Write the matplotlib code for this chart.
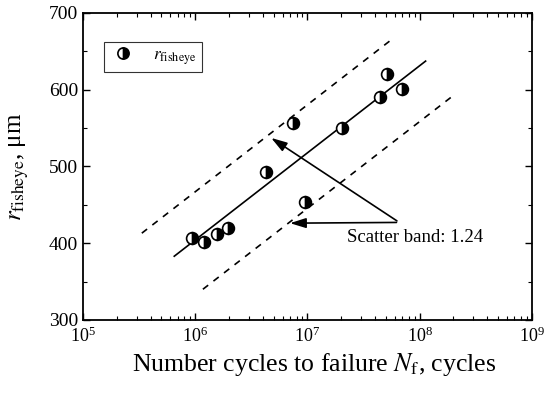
import numpy as np
import matplotlib.pyplot as plt
from matplotlib.ticker import LogLocator, MultipleLocator, NullFormatter

plt.rcParams['font.family'] = ['Liberation Serif', 'DejaVu Serif']
plt.rcParams['mathtext.fontset'] = 'stix'

# Data
cycles = [9.3e5, 1.2e6, 1.55e6, 1.96e6, 4.27e6, 7.46e6, 9.46e6, 2.03e7, 4.4e7, 5.1e7, 6.99e7]
r_fisheye = [407, 401, 412, 420, 493, 557, 453, 550, 590, 620, 601]

# Fit line and scatter band ends
fit_x = [6.5e5, 1.13e8]
fit_y = [383, 637]
upper_x = [3.34e5, 5.85e7]
upper_y = [413, 667]
lower_x = [1.17e6, 2.07e8]
lower_y = [340, 594]

fig, ax = plt.subplots(figsize=(5.5, 3.97), dpi=100)
fig.subplots_adjust(left=0.151, right=0.967, top=0.968, bottom=0.194)

ax.plot(fit_x, fit_y, color='black', lw=1.2)
ax.plot(upper_x, upper_y, color='black', lw=1.2, ls=(0, (4, 4)))
ax.plot(lower_x, lower_y, color='black', lw=1.2, ls=(0, (4, 4)))

ax.plot(cycles, r_fisheye, ls='none', marker='o', markersize=8.5,
        fillstyle='right', markerfacecolor='black', markerfacecoloralt='white',
        markeredgecolor='black', markeredgewidth=1.2, label=r'$r_{\rm fisheye}$')

# Annotation arrows
tail = (6.58e7, 427)
ax.annotate('', xy=(4.53e6, 539), xytext=tail,
            arrowprops=dict(arrowstyle='-|>,head_width=0.25,head_length=0.8',
                            color='black', lw=1.2, mutation_scale=12))
ax.annotate('', xy=(6.6e6, 426), xytext=tail,
            arrowprops=dict(arrowstyle='-|>,head_width=0.25,head_length=0.8',
                            color='black', lw=1.2, mutation_scale=12))
ax.text(2.27e7, 408, 'Scatter band: 1.24', fontsize=13.5, va='center', ha='left')

ax.set_xscale('log')
ax.set_xlim(1e5, 1e9)
ax.set_ylim(300, 700)
ax.xaxis.set_major_locator(LogLocator(base=10, numticks=10))
ax.xaxis.set_minor_locator(LogLocator(base=10, subs=np.arange(2, 10), numticks=20))
ax.xaxis.set_minor_formatter(NullFormatter())
ax.yaxis.set_major_locator(MultipleLocator(100))
ax.yaxis.set_minor_locator(MultipleLocator(50))

ax.tick_params(which='both', direction='in', top=True, right=True)
ax.tick_params(axis='y', labelsize=14)
ax.tick_params(axis='x', labelsize=13, pad=5)
ax.tick_params(which='major', length=5, width=1.0)
ax.tick_params(which='minor', length=3, width=0.8)
for s in ax.spines.values():
    s.set_linewidth(1.3)

ax.set_xlabel(r'Number cycles to failure $N_{\rm f}$, cycles', fontsize=18.5, labelpad=3)
ax.xaxis.set_label_coords(0.515, -0.1, transform=ax.transAxes)
ax.xaxis.label.set_va('top')
ax.set_ylabel(r'$r_{\rm fisheye}$, μm', fontsize=18, labelpad=13)

leg = ax.legend(loc='upper left', bbox_to_anchor=(0.047, 0.905), fontsize=12.5,
                frameon=True, fancybox=False, edgecolor='black', handletextpad=0.9,
                borderpad=0.3, borderaxespad=0, handlelength=1.6, markerscale=0.95)
leg.get_frame().set_linewidth(0.8)

fig.savefig('out.png', dpi=100)
